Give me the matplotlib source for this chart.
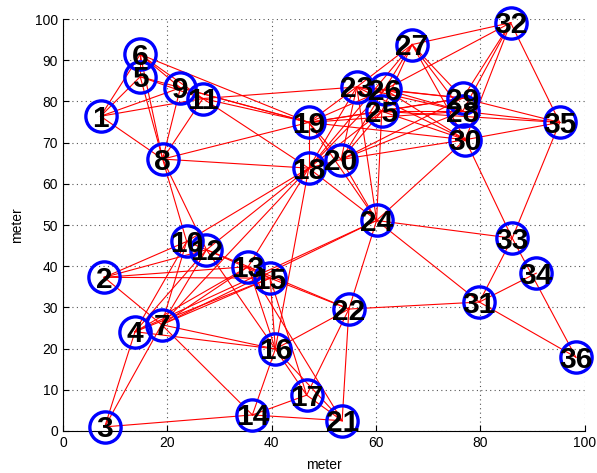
import matplotlib
matplotlib.use("Agg")
import matplotlib.pyplot as plt

# node coordinates (meter)
node_x = [7.2, 7.9, 8.0, 13.8, 14.8, 14.8, 18.9, 19.1, 22.5, 23.7,
          26.8, 27.5, 35.5, 36.3, 39.7, 40.7, 46.7, 47.1, 47.1, 53.3,
          53.5, 54.8, 56.3, 60.1, 61.1, 61.7, 66.9, 76.6, 76.6, 77.1,
          79.8, 85.8, 86.1, 90.7, 95.2, 98.3]
node_y = [76.4, 37.3, 1.0, 24.1, 86.0, 91.4, 25.8, 66.0, 83.3, 46.0,
          80.7, 44.0, 39.9, 3.9, 37.1, 19.9, 8.7, 63.8, 74.9, 65.9,
          2.5, 29.6, 83.5, 51.1, 77.6, 82.9, 93.8, 77.6, 80.8, 70.7,
          31.3, 99.1, 46.8, 38.3, 74.9, 17.9]

# links between nodes (1-based ids)
edges = [
    (1, 5), (1, 6), (1, 9), (1, 11), (1, 8),
    (5, 6), (6, 9), (6, 11), (6, 19), (5, 11), (5, 19), (6, 8), (5, 8), (9, 8), (11, 8),
    (8, 19), (8, 18), (11, 18), (11, 23), (9, 19), (11, 19),
    (8, 10), (8, 12), (12, 16),
    (2, 10), (2, 12), (2, 13), (2, 15), (2, 7),
    (10, 4), (10, 7), (12, 4), (12, 7), (10, 12), (12, 13), (12, 15), (13, 15),
    (13, 4), (13, 7), (15, 4), (15, 7), (4, 24), (7, 24),
    (10, 18), (12, 18), (18, 13), (18, 16), (18, 7),
    (4, 3), (7, 3), (7, 16), (4, 16), (7, 14),
    (13, 16), (15, 16), (15, 17), (13, 21),
    (15, 22), (13, 22), (16, 22), (16, 17), (16, 21),
    (14, 16), (14, 17), (14, 21), (3, 14), (17, 21), (17, 22), (21, 22),
    (22, 24), (22, 31),
    (24, 33), (24, 31), (24, 30), (24, 18), (24, 19), (24, 20), (24, 23), (24, 25),
    (31, 33), (31, 34), (31, 36), (33, 36), (30, 33), (33, 35),
    (27, 32), (27, 28), (27, 29), (27, 30), (27, 23), (27, 25), (27, 20), (27, 18),
    (32, 26), (32, 29), (32, 28), (32, 30), (32, 35),
    (35, 28), (35, 29), (35, 30), (35, 25),
    (30, 20), (30, 19), (30, 23), (30, 26), (30, 25),
    (23, 28), (23, 29), (26, 28), (26, 29), (25, 28), (25, 29), (23, 26), (23, 25),
    (19, 23), (19, 26), (19, 25), (19, 29), (19, 28), (19, 18), (19, 20),
    (18, 23), (18, 25), (18, 26), (18, 20),
    (20, 23), (20, 25), (20, 28), (20, 29),
]

x_ticks = [0, 20, 40, 60, 80, 100]
y_ticks = [0, 10, 20, 30, 40, 50, 60, 70, 80, 90, 100]

plt.rcParams['font.family'] = ['Liberation Sans', 'DejaVu Sans']

fig = plt.figure(figsize=(5.97, 4.73), dpi=100)
ax = fig.add_axes([0.1055, 0.0888, 0.874, 0.871])

for a, b in edges:
    ax.plot([node_x[a - 1], node_x[b - 1]], [node_y[a - 1], node_y[b - 1]],
            color='red', lw=0.8, zorder=2)

ax.plot(node_x, node_y, 'o', ms=22.5, mfc='none', mec='blue', mew=2.4,
        clip_on=False, zorder=3)

for i, (x, y) in enumerate(zip(node_x, node_y)):
    ax.text(x, y - 0.6, str(i + 1), ha='center', va='center', fontsize=21.5,
            fontweight='bold', color='black', clip_on=False, zorder=4)

ax.set_xlim(0, 100)
ax.set_ylim(0, 100)
ax.set_xticks(x_ticks)
ax.set_yticks(y_ticks)
ax.tick_params(direction='in', labelsize=10, length=4)
ax.grid(True, linestyle=(0, (1, 3)), color='#555555', lw=0.8)
ax.spines['top'].set_visible(False)
ax.spines['right'].set_visible(False)
ax.set_xlabel('meter', fontsize=10, labelpad=6)
ax.set_ylabel('meter', fontsize=10, labelpad=8)

fig.savefig('out.png', dpi=100)
